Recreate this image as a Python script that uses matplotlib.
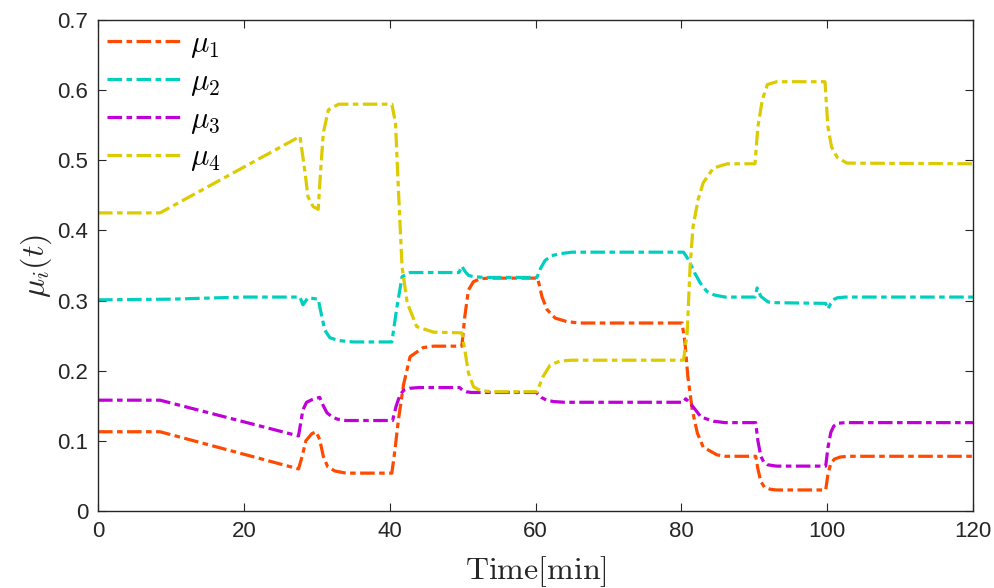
import matplotlib
matplotlib.use("Agg")
import matplotlib.pyplot as plt
from matplotlib.ticker import FuncFormatter

# ---------------- data ----------------
t1 = [0, 8.5, 27.5, 28.0, 28.5, 29.3, 29.9, 30.4, 30.9, 31.5, 32.5, 34,
      40.3, 40.7, 41.2, 41.9, 42.8, 44.6, 46, 49.9, 50.3, 50.8, 51.5, 52.4, 53.5,
      60.3, 60.9, 61.6, 62.7, 64.3, 66, 80.1, 80.5, 80.9, 81.5, 82.2, 83.0, 84.9, 86,
      90.2, 90.5, 90.9, 91.4, 92.2, 93, 99.8, 100.1, 100.5, 101.0, 101.8, 103, 120]
mu1 = [0.113, 0.113, 0.060, 0.078, 0.100, 0.110, 0.113, 0.102, 0.078, 0.063, 0.057, 0.054,
       0.054, 0.085, 0.130, 0.180, 0.220, 0.233, 0.235, 0.235, 0.277, 0.315, 0.327, 0.331, 0.332,
       0.332, 0.305, 0.287, 0.275, 0.270, 0.268, 0.268, 0.240, 0.191, 0.144, 0.111, 0.091, 0.080, 0.078,
       0.078, 0.060, 0.042, 0.034, 0.031, 0.030, 0.030, 0.052, 0.068, 0.074, 0.077, 0.078, 0.078]

t2 = [0, 10, 20, 27.7, 28.1, 28.8, 30.2, 30.7, 31.1, 31.8, 33, 35,
      40.3, 41.0, 41.7, 42.8, 44, 49.5, 49.9, 50.3, 50.8, 51.5, 53,
      60.2, 60.7, 61.3, 62.2, 63.5, 65, 80.3, 81.0, 81.8, 82.6, 83.5, 84.5, 86,
      90.1, 90.4, 90.9, 91.9, 93, 99.8, 100.1, 100.5, 101.0, 101.4, 102.5, 120]
mu2 = [0.301, 0.302, 0.305, 0.305, 0.294, 0.304, 0.302, 0.277, 0.258, 0.247, 0.243, 0.241,
       0.241, 0.291, 0.334, 0.340, 0.340, 0.340, 0.349, 0.342, 0.336, 0.334, 0.333,
       0.333, 0.346, 0.357, 0.364, 0.367, 0.369, 0.369, 0.358, 0.340, 0.325, 0.313, 0.308, 0.305,
       0.305, 0.318, 0.306, 0.298, 0.297, 0.296, 0.288, 0.296, 0.302, 0.304, 0.305, 0.305]

t3 = [0, 8.5, 27.5, 28.1, 28.6, 29.4, 30.4, 30.9, 31.4, 32.0, 32.8, 34,
      40.4, 40.9, 41.4, 41.9, 42.8, 44, 49.6, 50.0, 50.5, 51.2,
      60.1, 60.8, 61.5, 62.5, 64, 80.3, 80.6, 81.0, 81.8, 82.7, 84.4, 86,
      90.2, 90.5, 90.9, 91.3, 91.8, 93, 99.8, 100.1, 100.5, 100.9, 101.4, 102.5, 120]
mu3 = [0.158, 0.158, 0.107, 0.144, 0.155, 0.159, 0.162, 0.150, 0.140, 0.135, 0.131, 0.129,
       0.129, 0.150, 0.165, 0.172, 0.175, 0.176, 0.176, 0.172, 0.170, 0.169,
       0.169, 0.162, 0.158, 0.156, 0.155, 0.155, 0.160, 0.156, 0.146, 0.134, 0.128, 0.126,
       0.126, 0.100, 0.078, 0.070, 0.066, 0.064, 0.064, 0.090, 0.112, 0.121, 0.125, 0.126, 0.126]

t4 = [0, 8.5, 27.7, 28.4, 28.8, 29.5, 30.2, 30.5, 30.9, 31.6, 33,
      40.3, 40.8, 41.2, 41.7, 42.4, 43.7, 46, 49.9, 50.3, 50.8, 51.5, 52.4, 54,
      60.2, 61.0, 62.0, 63.4, 65, 80.3, 80.8, 81.2, 81.6, 82.3, 83.0, 84.4, 86.3,
      90.1, 90.5, 91.1, 91.8, 93.1, 99.7, 100.1, 100.6, 101.4, 102.7, 120]
mu4 = [0.425, 0.425, 0.534, 0.482, 0.448, 0.434, 0.430, 0.480, 0.539, 0.572, 0.580,
       0.580, 0.553, 0.458, 0.348, 0.297, 0.263, 0.255, 0.254, 0.230, 0.197, 0.177, 0.172, 0.170,
       0.170, 0.191, 0.208, 0.214, 0.215, 0.215, 0.254, 0.348, 0.405, 0.444, 0.468, 0.489, 0.495,
       0.495, 0.548, 0.586, 0.608, 0.612, 0.612, 0.548, 0.519, 0.504, 0.496, 0.495]

series_t = [t1, t2, t3, t4]
series_v = [mu1, mu2, mu3, mu4]
labels = [r'$\mu_1$', r'$\mu_2$', r'$\mu_3$', r'$\mu_4$']
colors = ['#FF4A00', '#00CFC0', '#C000D8', '#DCCB00']

x_ticks = [0, 20, 40, 60, 80, 100, 120]
y_ticks = [0, 0.1, 0.2, 0.3, 0.4, 0.5, 0.6, 0.7]

# ---------------- figure ----------------
plt.rcParams['mathtext.fontset'] = 'cm'
plt.rcParams['font.family'] = ['Liberation Sans', 'DejaVu Sans']
plt.rcParams['lines.scale_dashes'] = False

fig = plt.figure(figsize=(9.95, 5.88), dpi=100)
ax = fig.add_axes([98/995, 77/588, 875/995, 491/588])

for t, v, lab, c in zip(series_t, series_v, labels, colors):
    ax.plot(t, v, color=c, lw=2.3, label=lab, dashes=[10.5, 3.2, 4.0, 3.2])

ax.set_xlim(0, 120)
ax.set_ylim(0, 0.7)
ax.set_xticks(x_ticks)
ax.set_yticks(y_ticks)
ax.yaxis.set_major_formatter(FuncFormatter(lambda v, p: '%g' % round(v, 3)))

dark = '#262626'
for s in ax.spines.values():
    s.set_color(dark)
    s.set_linewidth(1.0)
ax.tick_params(direction='in', top=True, right=True, length=6, width=0.8,
               colors=dark, labelsize=16, pad=7)

ax.set_xlabel(r'$\mathrm{Time[min]}$', fontsize=23, labelpad=9, color=dark)
ax.set_ylabel(r'$\mu_i(t)$', fontsize=23, labelpad=2, color=dark)

leg = ax.legend(loc='upper left', bbox_to_anchor=(0.0, 1.0), frameon=False,
                fontsize=22, handlelength=2.5, handletextpad=0.2,
                labelspacing=0.22, borderaxespad=0.15, borderpad=0.15)

fig.savefig('out.png', dpi=100)
